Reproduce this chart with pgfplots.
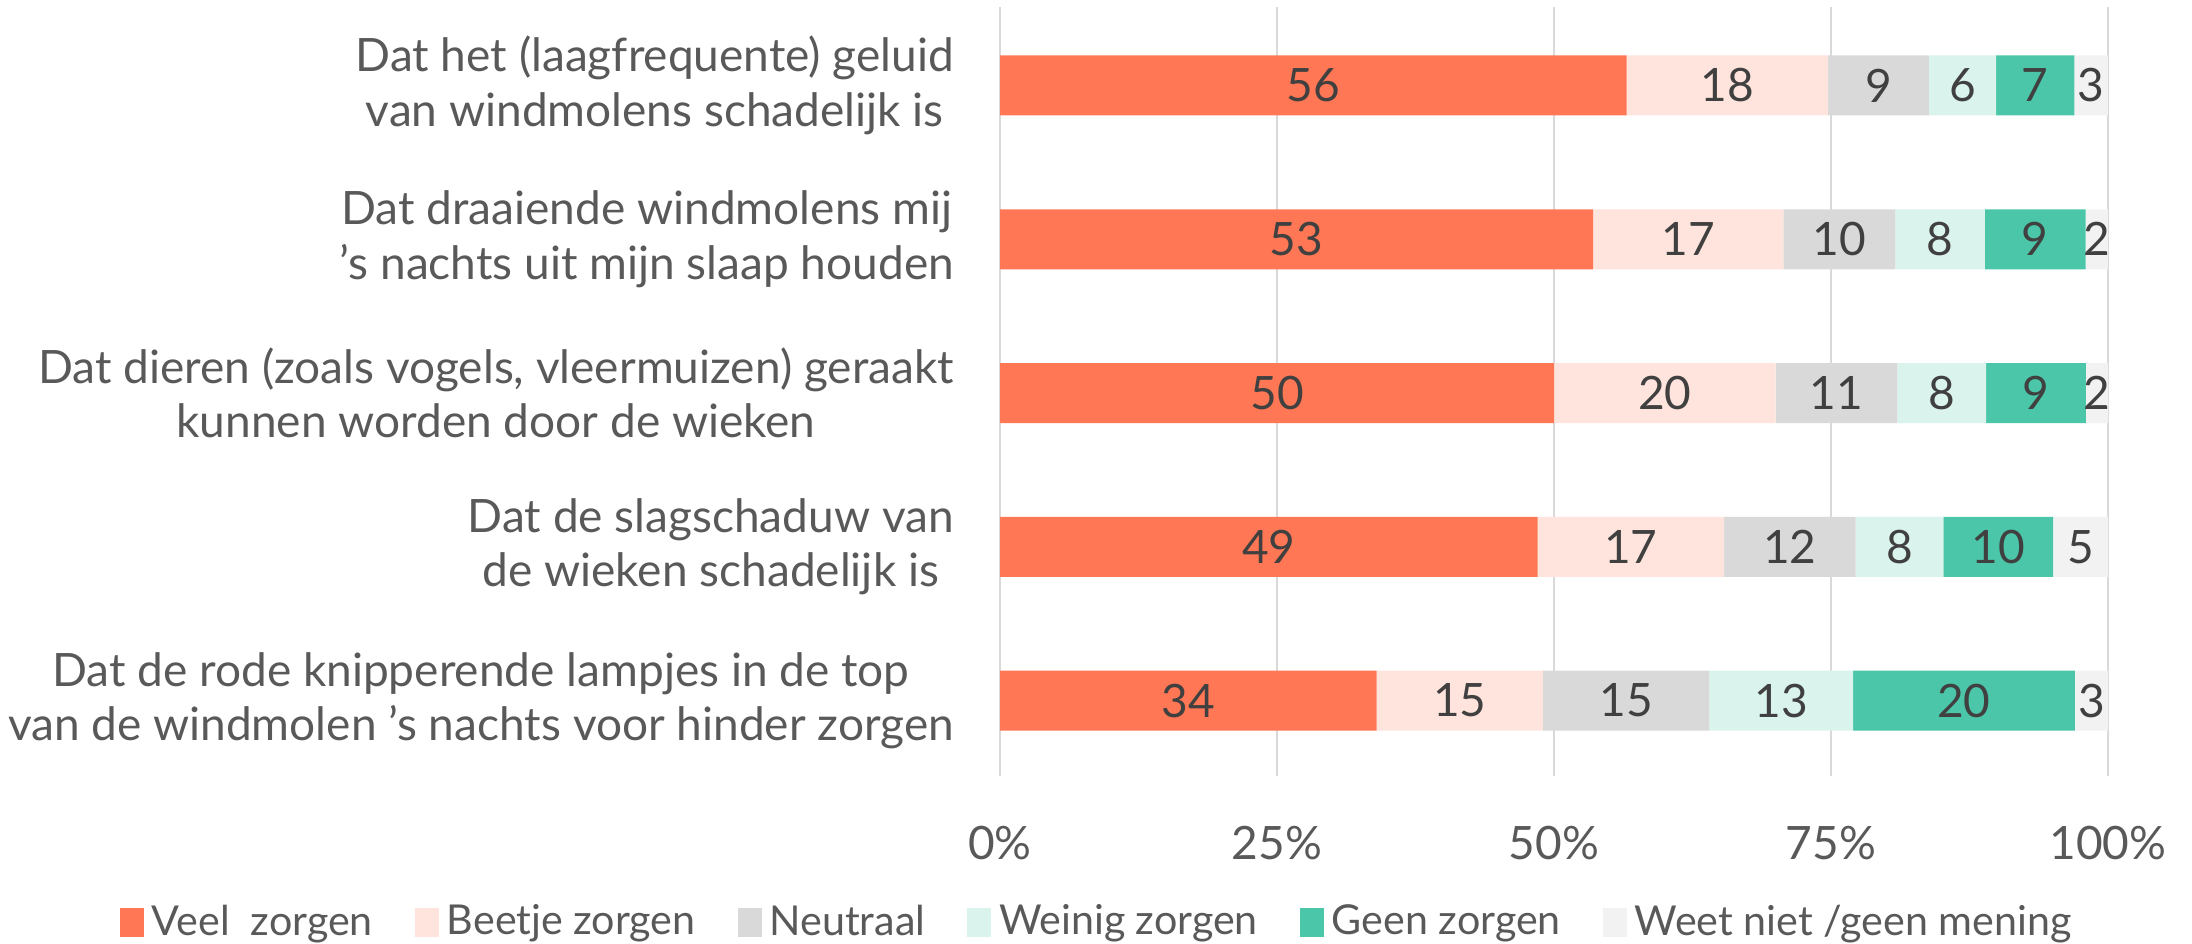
\documentclass[border=0pt]{standalone}
\usepackage{pgfplots}
\pgfplotsset{compat=1.18}
\usepackage{pgfplotstable}
\usepackage{fontspec}
\setmainfont{Lato}
\definecolor{cVeel}{HTML}{FF7754}
\definecolor{cBeetje}{HTML}{FFE4DD}
\definecolor{cNeutraal}{HTML}{D9D9D9}
\definecolor{cWeinig}{HTML}{DBF3ED}
\definecolor{cGeen}{HTML}{4BC6A8}
\definecolor{cWeet}{HTML}{F2F2F2}
\definecolor{txt}{HTML}{595959}
\definecolor{num}{HTML}{404040}
\definecolor{gridc}{HTML}{D9D9D9}
\pgfplotstableread{
cat a b c d e f tot
0 56 18 9 6 7 3 99
1 53 17 10 8 9 2 99
2 50 20 11 8 9 2 100
3 49 17 12 8 10 5 101
4 34 15 15 13 20 3 100
}\data
\begin{document}
\begin{tikzpicture}
\pgfplotsset{common/.style={
  at={(250pt,41.75pt)}, anchor=south west, scale only axis,
  width=277pt, height=192.25pt,
  xmin=0, xmax=100, ymin=-0.51, ymax=4.49, y dir=reverse,
}}
\path[use as bounding box] (0,0) rectangle (548pt,235.75pt);
\begin{axis}[common,
  xbar stacked, bar width=15pt,
  axis line style={draw=none}, tick style={draw=none},
  xtick={0,25,50,75,100},
  xmajorgrids, grid style={color=gridc, line width=0.6pt},
  ytick={0,1,2,3,4},
  yticklabels={{Dat het (laagfrequente) geluid\\van windmolens schadelijk is},
    {Dat draaiende windmolens mij\\’s nachts uit mijn slaap houden},
    {Dat dieren (zoals vogels, vleermuizen) geraakt\\kunnen worden door de wieken},
    {Dat de slagschaduw van\\de wieken schadelijk is},
    {Dat de rode knipperende lampjes in de top\\van de windmolen ’s nachts voor hinder zorgen}},
  yticklabel style={align=center, anchor=east, xshift=-8pt, text=txt,
    font=\fontsize{11.5}{13.6}\selectfont},
  xticklabel={\pgfmathprintnumber{\tick}\%},
  xticklabel style={anchor=center, yshift=-16.75pt, text=txt,
    font=\fontsize{11.5}{13.6}\selectfont},
  /pgf/number format/assume math mode=true,
  legend columns=6,
  legend style={at={(0.09,-0.191)}, anchor=center, draw=none, fill=none,
    text=txt, font=\fontsize{10.3}{12}\selectfont,
    /tikz/every even column/.append style={column sep=8.5pt},
    /tikz/every odd column/.append style={column sep=0pt},
    inner sep=0pt},
  legend image code/.code={\fill[#1] (0pt,-3.6pt) rectangle (6pt,3.6pt);},
]
\addplot[fill=cVeel, draw=none] table[x expr=\thisrow{a}*100/\thisrow{tot}, y=cat] \data;
\addplot[fill=cBeetje, draw=none] table[x expr=\thisrow{b}*100/\thisrow{tot}, y=cat] \data;
\addplot[fill=cNeutraal, draw=none] table[x expr=\thisrow{c}*100/\thisrow{tot}, y=cat] \data;
\addplot[fill=cWeinig, draw=none] table[x expr=\thisrow{d}*100/\thisrow{tot}, y=cat] \data;
\addplot[fill=cGeen, draw=none] table[x expr=\thisrow{e}*100/\thisrow{tot}, y=cat] \data;
\addplot[fill=cWeet, draw=none] table[x expr=\thisrow{f}*100/\thisrow{tot}, y=cat] \data;
\legend{Veel~ zorgen, Beetje zorgen, Neutraal, Weinig zorgen, Geen zorgen, Weet niet /geen mening}
\end{axis}
\begin{axis}[common, hide axis,
  nodes near coords,
  every node near coord/.append style={anchor=center, text=num, font=\fontsize{11.5}{13.6}\selectfont},
  /pgf/number format/assume math mode=true]
\addplot[draw=none, mark=none, point meta=explicit] table[x expr=(\thisrow{a}/2)*100/\thisrow{tot}, y=cat, meta=a] \data;
\addplot[draw=none, mark=none, point meta=explicit] table[x expr=(\thisrow{a}+\thisrow{b}/2)*100/\thisrow{tot}, y=cat, meta=b] \data;
\addplot[draw=none, mark=none, point meta=explicit] table[x expr=(\thisrow{a}+\thisrow{b}+\thisrow{c}/2)*100/\thisrow{tot}, y=cat, meta=c] \data;
\addplot[draw=none, mark=none, point meta=explicit] table[x expr=(\thisrow{a}+\thisrow{b}+\thisrow{c}+\thisrow{d}/2)*100/\thisrow{tot}, y=cat, meta=d] \data;
\addplot[draw=none, mark=none, point meta=explicit] table[x expr=(\thisrow{a}+\thisrow{b}+\thisrow{c}+\thisrow{d}+\thisrow{e}/2)*100/\thisrow{tot}, y=cat, meta=e] \data;
\addplot[draw=none, mark=none, point meta=explicit] table[x expr=(\thisrow{a}+\thisrow{b}+\thisrow{c}+\thisrow{d}+\thisrow{e}+\thisrow{f}/2)*100/\thisrow{tot}, y=cat, meta=f] \data;
\end{axis}
\end{tikzpicture}
\end{document}
